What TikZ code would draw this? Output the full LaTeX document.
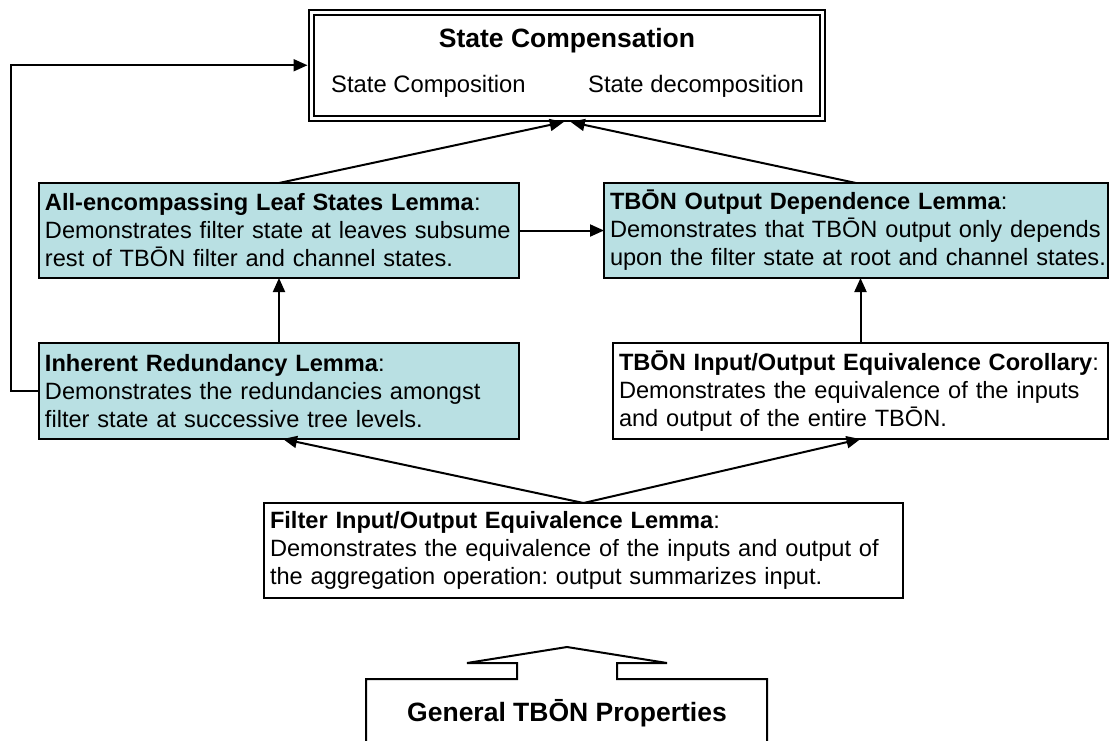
\documentclass[tikz,border=0pt]{standalone}
\usepackage{fontspec}
\setmainfont{Liberation Sans}
\usetikzlibrary{arrows.meta,calc}
\definecolor{lemmafill}{RGB}{185,224,227}

\begin{document}
\frenchspacing
\begin{tikzpicture}[x=1pt,y=-1pt,
  lemma/.style={draw, line width=2pt, outer sep=0pt, inner xsep=6pt,
    align=left, font=\fontsize{23.6}{28}\selectfont},
  shaded/.style={lemma, fill=lemmafill},
  plain/.style={lemma, fill=white},
  headline/.style={font=\fontsize{26.5}{30}\selectfont\bfseries, inner sep=0pt},
  subline/.style={font=\fontsize{23.8}{28}\selectfont, inner sep=0pt},
  arr/.style={-{Triangle[length=14pt,width=12pt]}, line width=2pt},
]
\useasboundingbox (0,0) rectangle (1109,740);

% top goal box with a double frame
\node[draw, double, line width=2pt, double distance=3pt, outer sep=0pt,
  inner sep=0pt, minimum width=511.5pt, minimum height=106.5pt]
  (top) at (566.75,65.25) {};
\node[headline, anchor=base] (sc) at (567,47.5) {State Compensation};
\node[subline, anchor=base west] (scomp) at (331,92.5) {State Composition};
\node[subline, anchor=base east] (sdec) at (804,92.5) {State decomposition};

% lemmas
\node[shaded, minimum width=480pt, minimum height=95pt, text width=468pt]
  (allenc) at (279,230.5)
  {\mbox{\textbf{All-encompassing Leaf States Lemma}:}\\
   \mbox{Demonstrates filter state at leaves subsume}\\
   \mbox{rest of TBŌN filter and channel states.}};
\node[shaded, minimum width=504pt, minimum height=95pt, text width=492pt]
  (outdep) at (856,230.5)
  {\mbox{\textbf{TBŌN Output Dependence Lemma}:}\\
   \mbox{Demonstrates that TBŌN output only depends}\\
   \mbox{upon the filter state at root and channel states.}};
\node[shaded, minimum width=480pt, minimum height=96pt, text width=468pt]
  (inh) at (279,391)
  {\mbox{\textbf{Inherent Redundancy Lemma}:}\\
   \mbox{Demonstrates the redundancies amongst}\\
   \mbox{filter state at successive tree levels.}};
\node[plain, minimum width=495pt, minimum height=96pt, text width=483pt]
  (cor) at (860.5,391)
  {\mbox{\textbf{TBŌN Input/Output Equivalence Corollary}:}\\
   \mbox{Demonstrates the equivalence of the inputs}\\
   \mbox{and output of the entire TBŌN.}};
\node[plain, minimum width=639pt, minimum height=95pt, text width=627pt]
  (filt) at (583.5,550.5)
  {\mbox{\textbf{Filter Input/Output Equivalence Lemma}:}\\
   \mbox{Demonstrates the equivalence of the inputs and output of}\\
   \mbox{the aggregation operation: output summarizes input.}};

% dependencies
\draw[arr] (allenc.north) -- ($(top.south)+(-3,3.5)$);
\draw[arr] (outdep.north) -- ($(top.south)+(4,3.5)$);
\draw[arr] (allenc.east) -- (outdep.west);
\draw[arr] (inh.north) -- (allenc.south);
\draw[arr] (cor.north) -- (cor.north |- outdep.south);
\draw[arr] (filt.north) -- ($(inh.south)+(4,0)$);
\draw[arr] (filt.north) -- (cor.south);
\coordinate (fbx) at (10.6,0);
\draw[arr] (inh.west) -- (inh.west -| fbx) |- ($(top.west)+(-3.5,0)$);

% base box with an upward block arrow
\draw[line width=2pt, line join=miter]
  (366,741) -- (366,679) -- (517,679) -- (517,663) -- (467,663) -- (567,647)
  -- (667,663) -- (617,663) -- (617,679) -- (767,679) -- (767,741);
\node[headline, anchor=base] (gen) at (567,721.5) {General TBŌN Properties};
\end{tikzpicture}
\end{document}
